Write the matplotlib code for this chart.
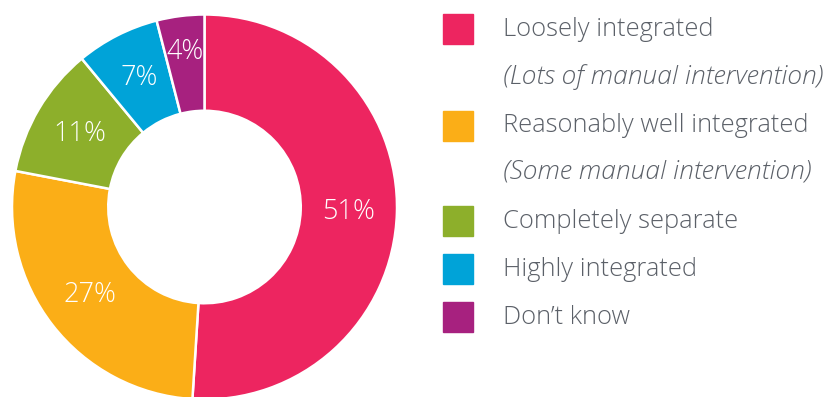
import matplotlib
matplotlib.use("Agg")
import matplotlib.pyplot as plt
from matplotlib.patches import Rectangle

# Data
labels = ["Loosely integrated", "Reasonably well integrated", "Completely separate",
          "Highly integrated", "Don\u2019t know"]
sublabels = ["(Lots of manual intervention)", "(Some manual intervention)", None, None, None]
shares = [51, 27, 11, 7, 4]
colors = ["#ED2560", "#FBAE17", "#8DAF2B", "#00A3D8", "#A7217F"]

W, H = 833, 397
fig = plt.figure(figsize=(W / 100, H / 100), dpi=100)

# donut: centre ~ (204, 207 from top), outer radius ~192 px
r_px = 192.5
cx, cy = 204.5, H - 207
ax = fig.add_axes([(cx - r_px) / W, (cy - r_px) / H, 2 * r_px / W, 2 * r_px / H])
wedges, texts, autotexts = ax.pie(
    shares, colors=colors, startangle=90, counterclock=False,
    autopct=lambda p: f"{p:.0f}%", pctdistance=0.75,
    wedgeprops=dict(width=0.5, edgecolor="white", linewidth=1.8),
    textprops=dict(color="white", fontsize=19.5, family="Open Sans", fontweight="light"),
)
ax.set_xlim(-1, 1)
ax.set_ylim(-1, 1)
ax.axis("off")

# the small 4% label sits a bit further out
x4, y4 = autotexts[4].get_position()
autotexts[4].set_position((x4 * 1.08, y4 * 1.08))

# legend drawn by hand (sub lines in italics)
txt_color = "#5b6068"
rows = [29, 126, 221, 269, 317]
sub_rows = [77, 172]
sq = 30
for i, (lab, col) in enumerate(zip(labels, colors)):
    yc = rows[i]
    fig.patches.append(Rectangle(((443) / W, (H - yc - sq / 2) / H), sq / W, sq / H,
                                 transform=fig.transFigure, color=col))
    fig.text(503 / W, (H - yc) / H, lab, va="center", ha="left", fontsize=18.4,
             family="Open Sans", fontweight="light", color=txt_color)
    if sublabels[i]:
        fig.text(503 / W, (H - sub_rows[i]) / H, sublabels[i], va="center", ha="left",
                 fontsize=19, family="Open Sans", fontweight="light", style="italic",
                 color=txt_color)

fig.savefig("out.png", dpi=100, facecolor="white")
